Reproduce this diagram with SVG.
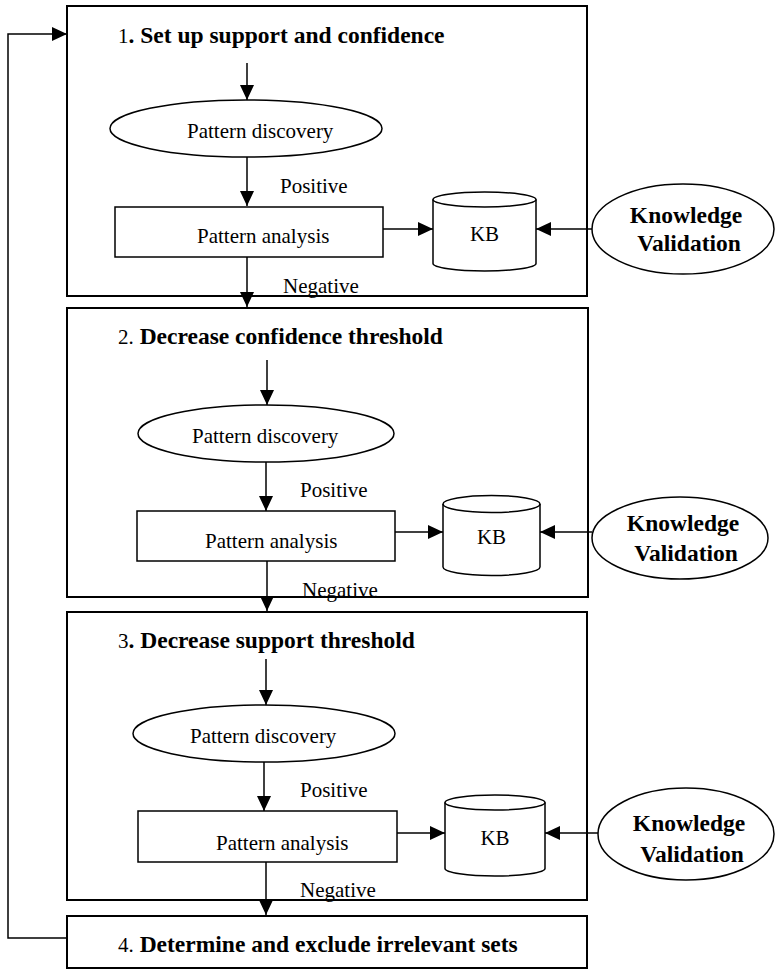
<svg xmlns="http://www.w3.org/2000/svg" width="775" height="970" viewBox="0 0 775 970">
<style>
.box{fill:none;stroke:#000;stroke-width:2}
.shape{fill:#fff;stroke:#000;stroke-width:1.5}
.ln{fill:none;stroke:#000;stroke-width:1.5}
text{font-family:"Liberation Serif","Times New Roman",serif;fill:#000}
.r{font-size:21px}
.b{font-size:23.5px;font-weight:bold}
.m{text-anchor:middle}
</style>
<defs>
<marker id="ah" markerUnits="userSpaceOnUse" markerWidth="15" markerHeight="14" refX="15" refY="7" orient="auto">
<path d="M0,0 L15,7 L0,14 Z" fill="#000"/>
</marker>
</defs>
<rect width="775" height="970" fill="#fff"/>

<g id="stage1">
<rect class="box" x="67" y="6" width="520" height="290"/>
<text x="118" y="43"><tspan class="r">1</tspan><tspan class="b">. Set up support and confidence</tspan></text>
</g>
<g id="discovery1">
<ellipse class="shape" cx="246" cy="128.5" rx="136" ry="28.5"/>
<text class="r" x="187" y="138">Pattern discovery</text>
</g>
<g id="analysis1">
<rect class="shape" x="115" y="207" width="268" height="50"/>
<text class="r" x="197" y="243">Pattern analysis</text>
</g>
<g id="kb1">
<path class="shape" d="M433,199.5 A51.5,7.5 0 0 1 536,199.5 L536,263.5 A51.5,7.5 0 0 1 433,263.5 Z"/>
<path class="ln" d="M433,199.5 A51.5,7.5 0 0 0 536,199.5"/>
<text class="r m" x="484.5" y="241">KB</text>
</g>
<g id="kv1">
<ellipse class="shape" cx="683" cy="229" rx="91" ry="45"/>
<text class="b m" x="686" y="223">Knowledge</text>
<text class="b m" x="689" y="251">Validation</text>
</g>

<g id="stage2">
<rect class="box" x="67" y="308" width="521" height="289"/>
<text x="118" y="344"><tspan class="r">2.</tspan><tspan class="b"> Decrease confidence threshold</tspan></text>
</g>
<g id="discovery2">
<ellipse class="shape" cx="266" cy="433.5" rx="128" ry="28.5"/>
<text class="r" x="192" y="443">Pattern discovery</text>
</g>
<g id="analysis2">
<rect class="shape" x="137" y="511" width="258" height="50"/>
<text class="r" x="205" y="548">Pattern analysis</text>
</g>
<g id="kb2">
<path class="shape" d="M443,504 A48.5,8.5 0 0 1 540,504 L540,567 A48.5,8.5 0 0 1 443,567 Z"/>
<path class="ln" d="M443,504 A48.5,8.5 0 0 0 540,504"/>
<text class="r m" x="491.5" y="544">KB</text>
</g>
<g id="kv2">
<ellipse class="shape" cx="680" cy="538" rx="88" ry="41"/>
<text class="b m" x="683" y="531">Knowledge</text>
<text class="b m" x="686" y="561">Validation</text>
</g>

<g id="stage3">
<rect class="box" x="67" y="612" width="520" height="288"/>
<text x="118" y="648"><tspan class="r">3</tspan><tspan class="b">. Decrease support threshold</tspan></text>
</g>
<g id="discovery3">
<ellipse class="shape" cx="264" cy="733.5" rx="131" ry="28.5"/>
<text class="r" x="190" y="743">Pattern discovery</text>
</g>
<g id="analysis3">
<rect class="shape" x="138" y="811" width="259" height="51"/>
<text class="r" x="216" y="850">Pattern analysis</text>
</g>
<g id="kb3">
<path class="shape" d="M445,802.5 A50,7.5 0 0 1 545,802.5 L545,868.5 A50,7.5 0 0 1 445,868.5 Z"/>
<path class="ln" d="M445,802.5 A50,7.5 0 0 0 545,802.5"/>
<text class="r m" x="495" y="845">KB</text>
</g>
<g id="kv3">
<ellipse class="shape" cx="686" cy="834" rx="88" ry="46"/>
<text class="b m" x="689" y="831">Knowledge</text>
<text class="b m" x="692" y="862">Validation</text>
</g>

<g id="stage4">
<rect class="box" x="67" y="916" width="520" height="52"/>
<text x="118" y="952"><tspan class="r">4.</tspan><tspan class="b"> Determine and exclude irrelevant sets</tspan></text>
</g>

<g id="connectors">
<line class="ln" x1="247" y1="63" x2="247" y2="100" marker-end="url(#ah)"/>
<line class="ln" x1="247" y1="157" x2="247" y2="206" marker-end="url(#ah)"/>
<line class="ln" x1="383" y1="229" x2="433" y2="229" marker-end="url(#ah)"/>
<line class="ln" x1="592" y1="229" x2="536" y2="229" marker-end="url(#ah)"/>
<line class="ln" x1="247" y1="257" x2="247" y2="307" marker-end="url(#ah)"/>
<text class="r" x="280" y="193">Positive</text>
<text class="r" x="283" y="293">Negative</text>

<line class="ln" x1="267" y1="360" x2="267" y2="405" marker-end="url(#ah)"/>
<line class="ln" x1="266" y1="462" x2="266" y2="511" marker-end="url(#ah)"/>
<line class="ln" x1="395" y1="532" x2="443" y2="532" marker-end="url(#ah)"/>
<line class="ln" x1="592" y1="532" x2="540" y2="532" marker-end="url(#ah)"/>
<line class="ln" x1="267" y1="561" x2="267" y2="611" marker-end="url(#ah)"/>
<text class="r" x="300" y="497">Positive</text>
<text class="r" x="302" y="597">Negative</text>

<line class="ln" x1="266" y1="659" x2="266" y2="705" marker-end="url(#ah)"/>
<line class="ln" x1="264" y1="762" x2="264" y2="811" marker-end="url(#ah)"/>
<line class="ln" x1="397" y1="833" x2="445" y2="833" marker-end="url(#ah)"/>
<line class="ln" x1="598" y1="833" x2="545" y2="833" marker-end="url(#ah)"/>
<line class="ln" x1="266" y1="862" x2="266" y2="915" marker-end="url(#ah)"/>
<text class="r" x="300" y="797">Positive</text>
<text class="r" x="300" y="897">Negative</text>

<polyline class="ln" points="67,938 8,938 8,34 67,34" marker-end="url(#ah)"/>
</g>
</svg>
